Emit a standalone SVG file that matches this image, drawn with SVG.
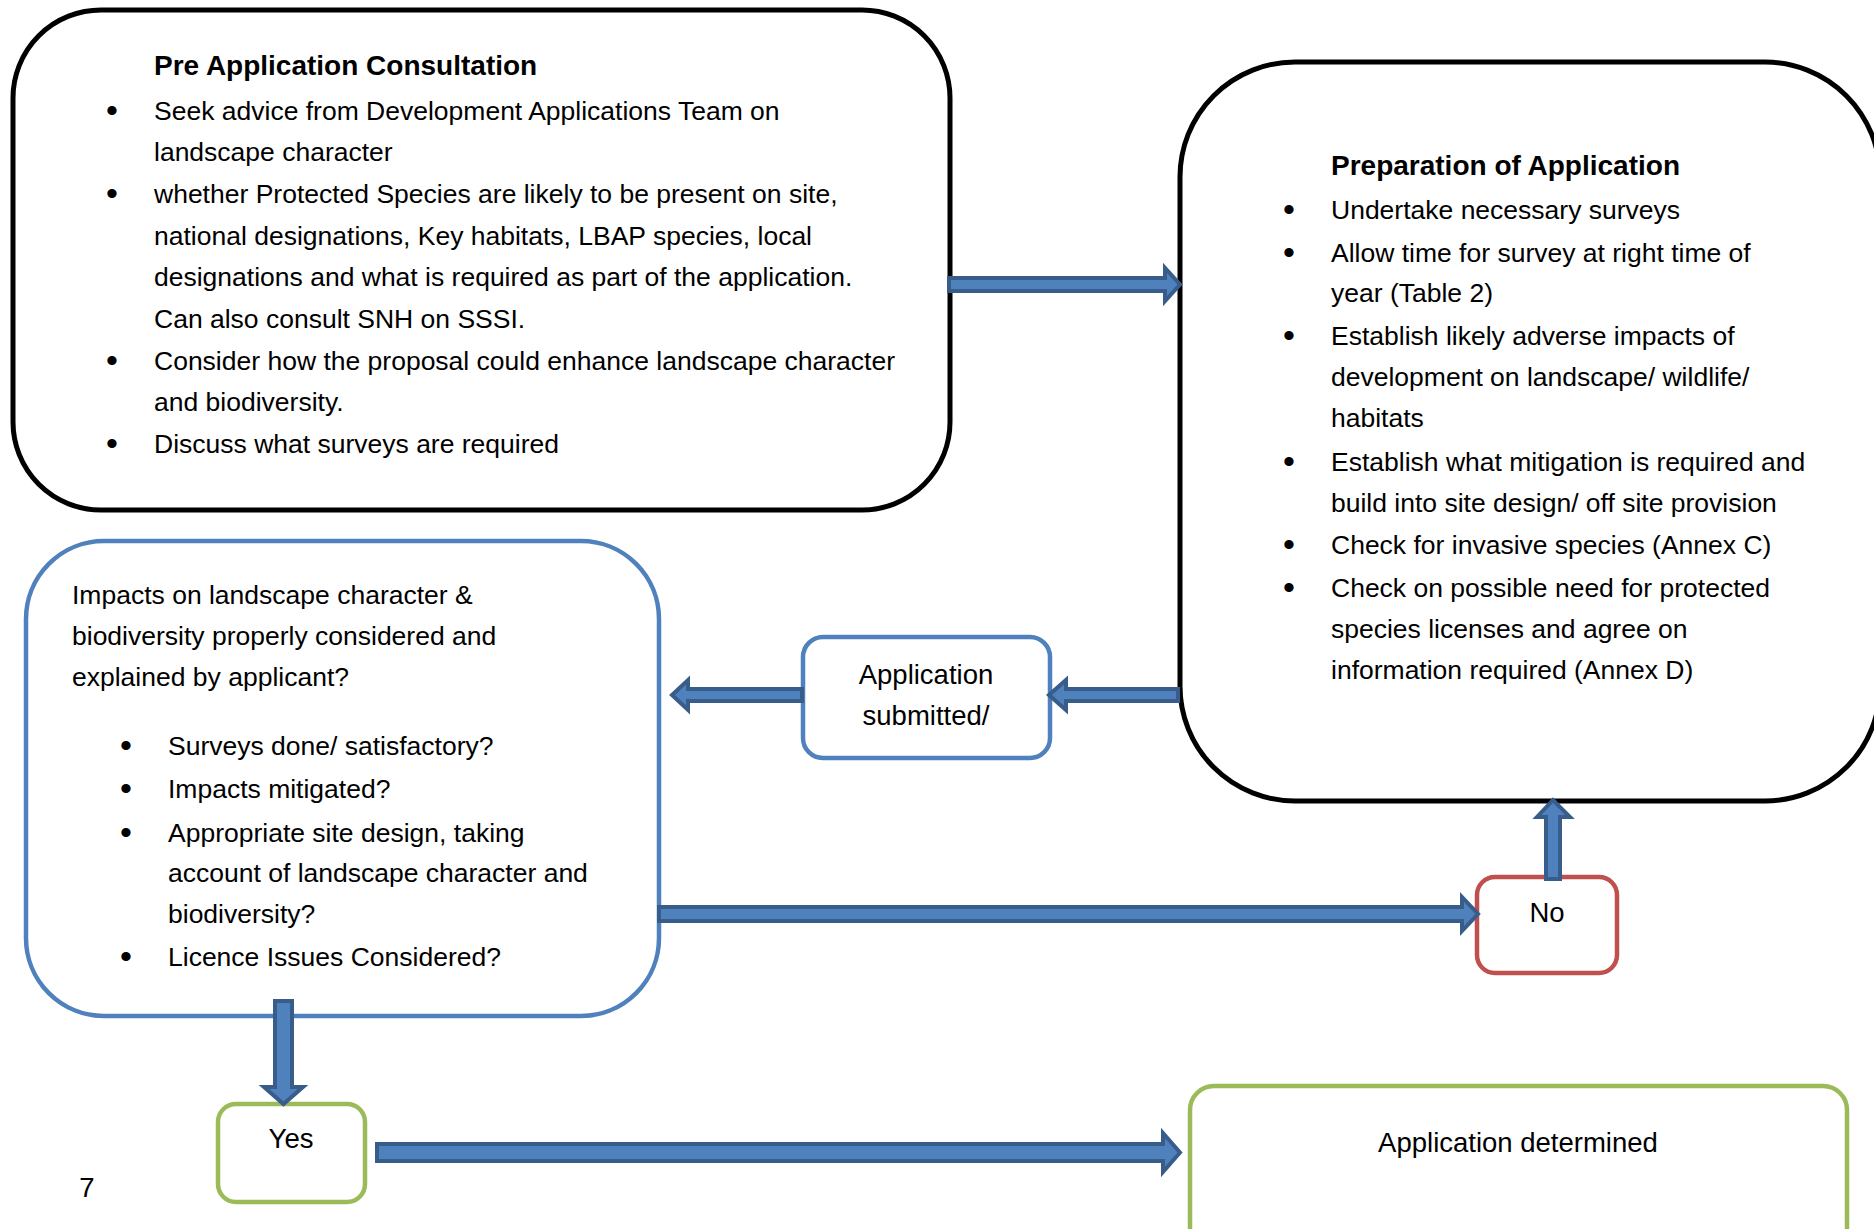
<svg xmlns="http://www.w3.org/2000/svg" width="1874" height="1229" viewBox="0 0 1874 1229">
<style>
.t{font-family:"Liberation Sans",Arial,sans-serif;font-size:26.5px;fill:#000}
.l{font-family:"Liberation Sans",Arial,sans-serif;font-size:27.5px;fill:#000;text-anchor:middle}
.u{font-family:"Liberation Sans",Arial,sans-serif;font-size:34px;fill:#000;text-anchor:middle}
.h{font-family:"Liberation Sans",Arial,sans-serif;font-size:28px;font-weight:bold;fill:#000}
.bk{fill:#fff;stroke:#000;stroke-width:5}
.bl{fill:#fff;stroke:#4F81BD;stroke-width:4.5}
.rd{fill:#fff;stroke:#C0504D;stroke-width:4.5}
.gr{fill:#fff;stroke:#9BBB59;stroke-width:4.5}
.ar{fill:#4F81BD;stroke:#385D8A;stroke-width:4;stroke-linejoin:miter}
</style>
<rect width="1874" height="1229" fill="#fff"/>

<g id="pre-application">
<rect class="bk" x="13" y="10" width="937" height="500" rx="88" ry="88"/>
<text class="h" x="154" y="75">Pre Application Consultation</text>
<text class="u" x="112" y="122">•</text>
<text class="t" x="154" y="120">Seek advice from Development Applications Team on</text>
<text class="t" x="154" y="161">landscape character</text>
<text class="u" x="112" y="205">•</text>
<text class="t" x="154" y="203">whether Protected Species are likely to be present on site,</text>
<text class="t" x="154" y="245">national designations, Key habitats, LBAP species, local</text>
<text class="t" x="154" y="286">designations and what is required as part of the application.</text>
<text class="t" x="154" y="328">Can also consult SNH on SSSI.</text>
<text class="u" x="112" y="372">•</text>
<text class="t" x="154" y="370">Consider how the proposal could enhance landscape character</text>
<text class="t" x="154" y="411">and biodiversity.</text>
<text class="u" x="112" y="455">•</text>
<text class="t" x="154" y="453">Discuss what surveys are required</text>
</g>

<g id="preparation">
<rect class="bk" x="1180" y="62" width="700" height="739" rx="115" ry="115"/>
<text class="h" x="1331" y="175">Preparation of Application</text>
<text class="u" x="1289" y="221">•</text>
<text class="t" x="1331" y="219">Undertake necessary surveys</text>
<text class="u" x="1289" y="264">•</text>
<text class="t" x="1331" y="262">Allow time for survey at right time of</text>
<text class="t" x="1331" y="302">year (Table 2)</text>
<text class="u" x="1289" y="347">•</text>
<text class="t" x="1331" y="345">Establish likely adverse impacts of</text>
<text class="t" x="1331" y="386">development on landscape/ wildlife/</text>
<text class="t" x="1331" y="427">habitats</text>
<text class="u" x="1289" y="473">•</text>
<text class="t" x="1331" y="471">Establish what mitigation is required and</text>
<text class="t" x="1331" y="512">build into site design/ off site provision</text>
<text class="u" x="1289" y="556">•</text>
<text class="t" x="1331" y="554">Check for invasive species (Annex C)</text>
<text class="u" x="1289" y="599">•</text>
<text class="t" x="1331" y="597">Check on possible need for protected</text>
<text class="t" x="1331" y="638">species licenses and agree on</text>
<text class="t" x="1331" y="679">information required (Annex D)</text>
</g>

<g id="impacts">
<rect class="bl" x="26" y="541" width="633" height="475" rx="78" ry="78"/>
<text class="t" x="72" y="604">Impacts on landscape character &amp;</text>
<text class="t" x="72" y="645">biodiversity properly considered and</text>
<text class="t" x="72" y="686">explained by applicant?</text>
<text class="u" x="126" y="757">•</text>
<text class="t" x="168" y="755">Surveys done/ satisfactory?</text>
<text class="u" x="126" y="800">•</text>
<text class="t" x="168" y="798">Impacts mitigated?</text>
<text class="u" x="126" y="844">•</text>
<text class="t" x="168" y="842">Appropriate site design, taking</text>
<text class="t" x="168" y="882">account of landscape character and</text>
<text class="t" x="168" y="923">biodiversity?</text>
<text class="u" x="126" y="968">•</text>
<text class="t" x="168" y="966">Licence Issues Considered?</text>
</g>

<g id="submitted">
<rect class="bl" x="803" y="637" width="247" height="121" rx="20" ry="20"/>
<text class="l" x="926" y="684">Application</text>
<text class="l" x="926" y="725">submitted/</text>
</g>

<g id="no">
<rect class="rd" x="1477" y="877" width="140" height="96" rx="18" ry="18"/>
<text class="l" x="1547" y="922">No</text>
</g>

<g id="yes">
<rect class="gr" x="218" y="1104" width="147" height="98" rx="18" ry="18"/>
<text class="l" x="291" y="1148">Yes</text>
</g>

<g id="determined">
<rect class="gr" x="1190" y="1086" width="657" height="180" rx="24" ry="24"/>
<text class="l" x="1518" y="1152">Application determined</text>
</g>

<g id="page-number">
<text class="l" x="87" y="1197">7</text>
</g>

<g id="connectors">
<polygon class="ar" points="949,278 1165,278 1165,268 1180,284.5 1165,301 1165,291 949,291"/>
<polygon class="ar" points="1178,689 1066,689 1066,680 1049,695 1066,710 1066,701 1178,701"/>
<polygon class="ar" points="802,689 688,689 688,680 672,695 688,710 688,701 802,701"/>
<polygon class="ar" points="659,907 1462,907 1462,897 1478,914 1462,931 1462,921 659,921"/>
<polygon class="ar" points="1546,879 1546,817 1537,817 1553,800 1570,817 1560,817 1560,879"/>
<polygon class="ar" points="275,1001 292,1001 292,1087 303,1087 283.5,1104 264,1087 275,1087"/>
<polygon class="ar" points="377,1144 1163,1144 1163,1133 1180,1152.5 1163,1172 1163,1161 377,1161"/>
</g>
</svg>
